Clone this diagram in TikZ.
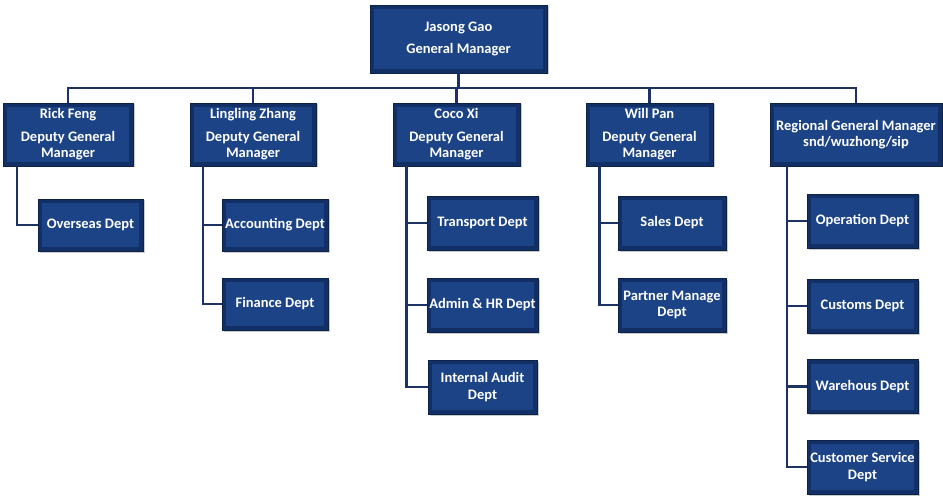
\documentclass[tikz,border=0pt]{standalone}
\usepackage{fontspec}
\setmainfont{Carlito}
\usetikzlibrary{shadows}
\definecolor{boxouter}{RGB}{18,48,102}
\definecolor{boxinner}{RGB}{27,67,134}
\definecolor{boxedge}{RGB}{12,34,72}
\definecolor{linec}{RGB}{28,50,100}
\tikzset{
  orgbox/.style={draw=boxedge, line width=0.6pt, fill=boxouter, text=white,
    align=center, inner sep=0pt, font=\bfseries\fontsize{14.5}{16.5}\selectfont,
    drop shadow={shadow xshift=1.5pt, shadow yshift=-1.5pt, fill=black!35, opacity=0.6},
    path picture={\fill[boxinner] ([shift={(4pt,-4pt)}]path picture bounding box.north west)
       rectangle ([shift={(-4pt,4pt)}]path picture bounding box.south east);}},
  link/.style={draw=linec, line width=2.2pt}
}
\begin{document}
\begin{tikzpicture}[x=1pt,y=-1pt]
\useasboundingbox (0,0) rectangle (943,500);
% top
\node[orgbox, minimum width=177pt, minimum height=68pt, font=\bfseries\fontsize{14.5}{22}\selectfont] (top) at (458.5,39) {Jasong Gao\\General Manager};
% deputies
\node[orgbox, minimum width=130pt, minimum height=63pt] (rick) at (68,134.5) {Rick Feng\\[6pt]Deputy General\\Manager};
\node[orgbox, minimum width=126pt, minimum height=63pt] (ling) at (253,134.5) {Lingling Zhang\\[6pt]Deputy General\\Manager};
\node[orgbox, minimum width=127pt, minimum height=63pt] (coco) at (456.5,134.5) {Coco Xi\\[6pt]Deputy General\\Manager};
\node[orgbox, minimum width=127pt, minimum height=63pt] (will) at (649.5,134.5) {Will Pan\\[6pt]Deputy General\\Manager};
\node[orgbox, minimum width=172pt, minimum height=63pt] (reg) at (856,134.5) {Regional General Manager\\snd/wuzhong/sip};
% depts
\node[orgbox, minimum width=105pt, minimum height=52pt] (ov) at (90.5,225) {Overseas Dept};
\node[orgbox, minimum width=106pt, minimum height=52pt] (acc) at (275,225) {Accounting Dept};
\node[orgbox, minimum width=106pt, minimum height=52pt] (fin) at (275,304) {Finance Dept};
\node[orgbox, minimum width=111pt, minimum height=54pt] (tra) at (482.5,223) {Transport Dept};
\node[orgbox, minimum width=111pt, minimum height=54pt] (adm) at (482.5,305) {Admin \& HR Dept};
\node[orgbox, minimum width=109pt, minimum height=54pt] (aud) at (482.5,387) {Internal Audit\\Dept};
\node[orgbox, minimum width=108pt, minimum height=54pt] (sal) at (672,223) {Sales Dept};
\node[orgbox, minimum width=108pt, minimum height=54pt] (par) at (672,305) {Partner Manage\\Dept};
\node[orgbox, minimum width=111pt, minimum height=54pt] (ope) at (862.5,221) {Operation Dept};
\node[orgbox, minimum width=111pt, minimum height=54pt] (cus) at (862.5,306) {Customs Dept};
\node[orgbox, minimum width=111pt, minimum height=54pt] (war) at (862.5,386.5) {Warehous Dept};
\node[orgbox, minimum width=111pt, minimum height=54pt] (csd) at (862.5,467) {Customer Service\\Dept};
% connectors
\coordinate (bus) at (458.5,88);
\draw[link] (top.south) -- (bus);
\draw[link] (rick.north) |- (bus) -| (reg.north);
\draw[link] (ling.north) -- (ling.north |- bus);
\draw[link] (coco.north) -- (coco.north |- bus);
\draw[link] (will.north) -- (will.north |- bus);
\draw[link] ([xshift=-51pt]rick.south) |- (ov.west);
\draw[link] ([xshift=-50pt]ling.south) |- (fin.west);
\draw[link] ([xshift=-50pt]ling.south) |- (acc.west);
\draw[link] ([xshift=-50pt]coco.south) |- (aud.west);
\draw[link] ([xshift=-50pt]coco.south) |- (adm.west);
\draw[link] ([xshift=-50pt]coco.south) |- (tra.west);
\draw[link] ([xshift=-50pt]will.south) |- (par.west);
\draw[link] ([xshift=-50pt]will.south) |- (sal.west);
\draw[link] ([xshift=-69pt]reg.south) |- (csd.west);
\draw[link] ([xshift=-69pt]reg.south) |- (war.west);
\draw[link] ([xshift=-69pt]reg.south) |- (cus.west);
\draw[link] ([xshift=-69pt]reg.south) |- (ope.west);
\end{tikzpicture}
\end{document}
